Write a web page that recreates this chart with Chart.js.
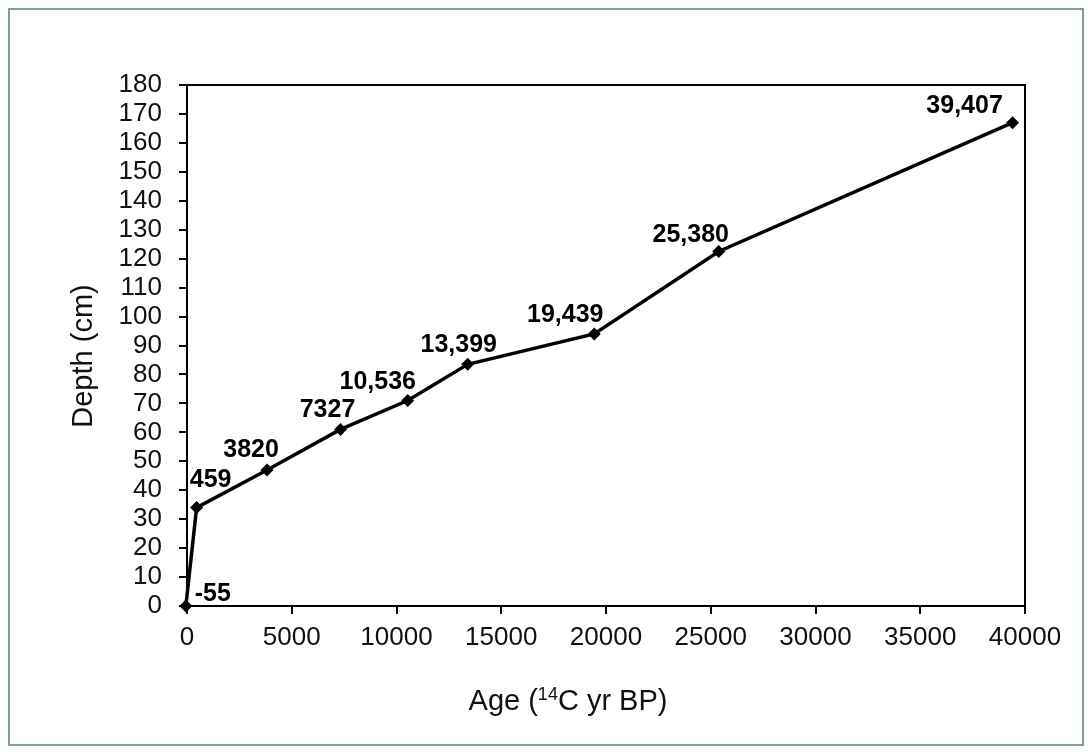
<!DOCTYPE html>
<html>
<head>
<meta charset="utf-8">
<script src="https://cdn.jsdelivr.net/npm/chart.js@4"></script>
<style>
  body { margin: 0; background: #fff; }
  #wrap { position: absolute; left: 0; top: 0; width: 1091px; height: 754px; }
  #frame { position: absolute; left: 8px; top: 8px; width: 1072px; height: 734px;
           border: 2px solid #8399a0; pointer-events: none; }
</style>
</head>
<body>
<div id="wrap"><canvas id="ageChart"></canvas></div>
<div id="frame"></div>
<script>
// age-depth model
const ages = [-55, 459, 3820, 7327, 10536, 13399, 19439, 25380, 39407];
const depths = [0, 34, 47, 61, 71, 83.5, 94, 122.5, 167];
const ageLabels = ["-55", "459", "3820", "7327", "10,536", "13,399", "19,439", "25,380", "39,407"];

const xMin = 0, xMax = 40000, xStep = 5000;
const yMin = 0, yMax = 180, yStep = 10;

const FONT = "'Liberation Sans', Arial, sans-serif";

// labels sit where they were dragged in the original (dx, rise above point)
const pointLabels = {
  id: "pointLabels",
  afterDatasetsDraw(chart, args, opts) {
    const ctx = chart.ctx;
    const meta = chart.getDatasetMeta(0);
    ctx.save();
    ctx.font = "bold 25px " + FONT;
    ctx.fillStyle = "#000";
    ctx.textAlign = "center";
    ctx.textBaseline = "alphabetic";
    meta.data.forEach((pt, i) => {
      const off = opts.offsets[i];
      ctx.fillText(ageLabels[i], pt.x + off[0], pt.y - off[1]);
    });
    ctx.restore();
  },
};

// plot frame (top/right) and the two axis titles
const frameAndTitles = {
  id: "frameAndTitles",
  afterDraw(chart) {
    const ctx = chart.ctx;
    const a = chart.chartArea;
    ctx.save();
    ctx.strokeStyle = "#000";
    ctx.lineWidth = 2;
    ctx.beginPath();
    ctx.moveTo(a.left, a.top);
    ctx.lineTo(a.right, a.top);
    ctx.lineTo(a.right, a.bottom);
    ctx.stroke();

    ctx.fillStyle = "#111";
    ctx.textBaseline = "alphabetic";
    ctx.textAlign = "left";

    // x title with superscript
    const big = "29px " + FONT, small = "18px " + FONT;
    ctx.font = big;
    const w1 = ctx.measureText("Age (").width;
    const w3 = ctx.measureText("C yr BP)").width;
    ctx.font = small;
    const w2 = ctx.measureText("14").width;
    let x = 568 - (w1 + w2 + w3) / 2;
    const base = 710;
    ctx.font = big;
    ctx.fillText("Age (", x, base);
    x += w1;
    ctx.font = small;
    ctx.fillText("14", x, base - 10);
    x += w2;
    ctx.font = big;
    ctx.fillText("C yr BP)", x, base);

    // y title
    ctx.translate(92, 356);
    ctx.rotate(-Math.PI / 2);
    ctx.font = big;
    ctx.textAlign = "center";
    ctx.fillText("Depth (cm)", 0, 0);
    ctx.restore();
  },
};

const ctx = document.getElementById("ageChart").getContext("2d");

const ageChart = new Chart(ctx, {
  type: "scatter",
  data: {
    datasets: [
      {
        label: "Age-depth",
        data: ages.map((a, i) => ({ x: a, y: depths[i] })),
        showLine: true,
        borderColor: "#000",
        borderWidth: 3.5,
        backgroundColor: "#000",
        pointStyle: "rectRot",
        pointRadius: 6.5,
        pointBorderWidth: 0,
        tension: 0,
        clip: 12,
      },
    ],
  },
  plugins: [pointLabels, frameAndTitles],
  options: {
    responsive: true,
    maintainAspectRatio: false,
    animation: false,
    layout: {
      padding: { left: 0, top: 85, right: 66, bottom: 0 },
    },
    plugins: {
      legend: { display: false },
      tooltip: { enabled: false },
      pointLabels: {
        offsets: [
          [27, 5],
          [14, 21],
          [-16, 13],
          [-13, 12],
          [-30, 11],
          [-9, 12],
          [-29, 12],
          [-28, 9],
          [-48, 10],
        ],
      },
    },
    scales: {
      x: {
        type: "linear",
        min: xMin,
        max: xMax,
        afterFit(scale) {
          scale.height = 148;
        },
        ticks: {
          stepSize: xStep,
          autoSkip: false,
          color: "#111",
          padding: 8,
          maxRotation: 0,
          font: { family: FONT, size: 26 },
          callback: (v) => String(v),
        },
        grid: {
          drawOnChartArea: false,
          drawTicks: true,
          tickLength: 8,
          color: "#000",
          lineWidth: 2,
        },
        border: { display: true, color: "#000", width: 2 },
      },
      y: {
        type: "linear",
        min: yMin,
        max: yMax,
        afterFit(scale) {
          scale.width = 187;
        },
        ticks: {
          stepSize: yStep,
          autoSkip: false,
          color: "#111",
          padding: 17,
          font: { family: FONT, size: 26 },
          callback: (v) => String(v),
        },
        grid: {
          drawOnChartArea: false,
          drawTicks: true,
          tickLength: 8,
          color: "#000",
          lineWidth: 2,
        },
        border: { display: true, color: "#000", width: 2 },
      },
    },
  },
});
</script>
</body>
</html>
